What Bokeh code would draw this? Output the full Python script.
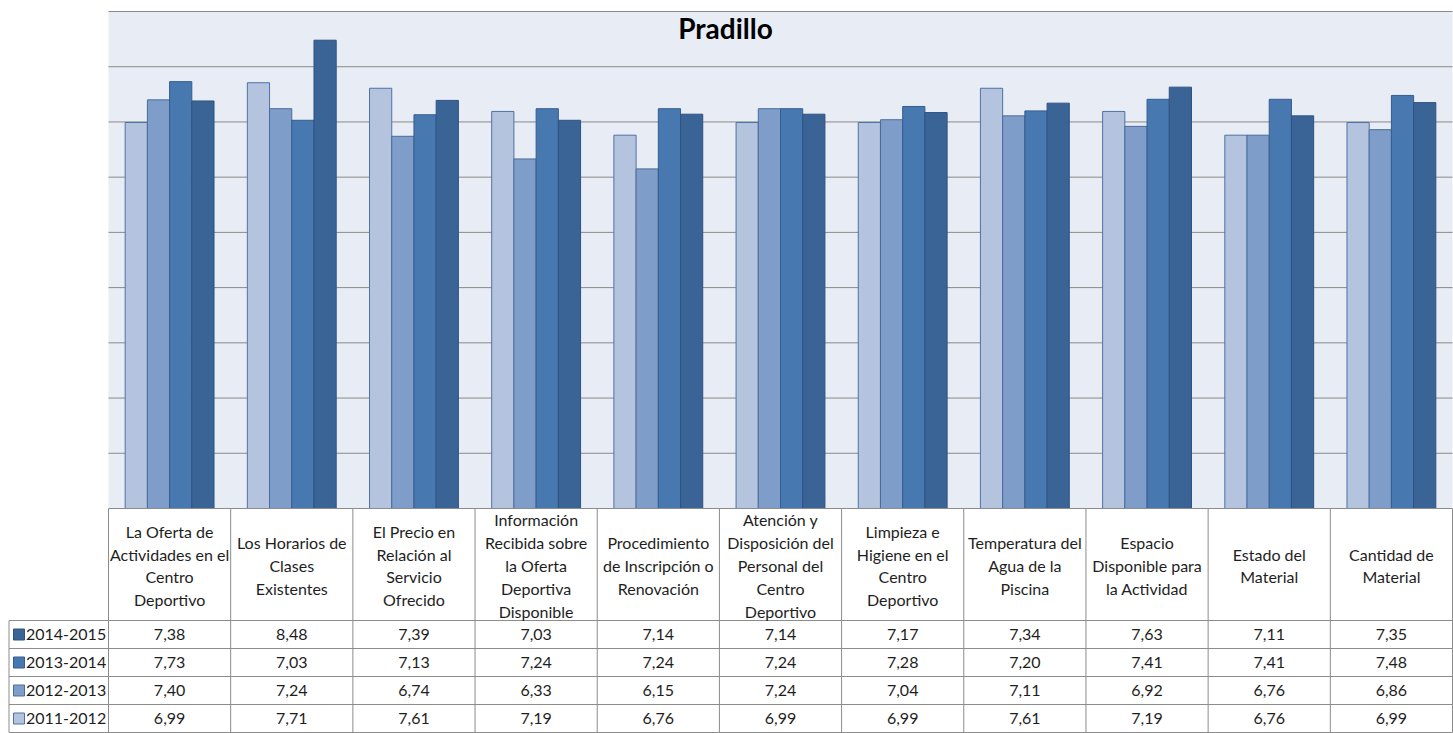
from bokeh.plotting import figure
from bokeh.models import Range1d, ColumnDataSource
from bokeh.core.properties import value
from bokeh.embed import file_html
from bokeh.resources import INLINE

# ---------------- data ----------------
title_text = "Pradillo"
categories = [
    "La Oferta de\nActividades en el\nCentro\nDeportivo",
    "Los Horarios de\nClases\nExistentes",
    "El Precio en\nRelación al\nServicio\nOfrecido",
    "Información\nRecibida sobre\nla Oferta\nDeportiva\nDisponible",
    "Procedimiento\nde Inscripción o\nRenovación",
    "Atención y\nDisposición del\nPersonal del\nCentro\nDeportivo",
    "Limpieza e\nHigiene en el\nCentro\nDeportivo",
    "Temperatura del\nAgua de la\nPiscina",
    "Espacio\nDisponible para\nla Actividad",
    "Estado del\nMaterial",
    "Cantidad de\nMaterial",
]
series_names = ["2011-2012", "2012-2013", "2013-2014", "2014-2015"]
v_2011_2012 = [6.99, 7.71, 7.61, 7.19, 6.76, 6.99, 6.99, 7.61, 7.19, 6.76, 6.99]
v_2012_2013 = [7.40, 7.24, 6.74, 6.33, 6.15, 7.24, 7.04, 7.11, 6.92, 6.76, 6.86]
v_2013_2014 = [7.73, 7.03, 7.13, 7.24, 7.24, 7.24, 7.28, 7.20, 7.41, 7.41, 7.48]
v_2014_2015 = [7.38, 8.48, 7.39, 7.03, 7.14, 7.14, 7.17, 7.34, 7.63, 7.11, 7.35]
y_gridlines = [1, 2, 3, 4, 5, 6, 7, 8, 9]
y_max = 9

series_values = [v_2011_2012, v_2012_2013, v_2013_2014, v_2014_2015]
fills = ["#B4C4DF", "#7F9DC9", "#4878B0", "#3B6496"]
edges = ["#4F72A4", "#4A6C9C", "#355D8F", "#2F5283"]

# ---------------- layout (page pixels) ----------------
W, H = 1453, 733
X0, X1 = 108, 1452      # plot-area / table columns left & right
Y_TOP, Y_ZERO = 11, 508  # pixel of y_max and of 0
N = len(categories)
U = (X1 - X0) / N
V = (Y_ZERO - Y_TOP) / y_max


def fx(px):
    return (px - X0) / U


def fy(py):
    return (Y_ZERO - py) / V


p = figure(width=W, height=H, output_backend="svg", toolbar_location=None,
           x_range=Range1d(fx(0), fx(W)), y_range=Range1d(fy(H), fy(0)),
           min_border=0, x_axis_location=None, y_axis_location=None)
p.outline_line_color = None
p.xgrid.visible = False
p.ygrid.visible = False
p.background_fill_color = "white"
p.border_fill_color = "white"

FONT = value("Lato")
TXT = "#1E1E1E"

# plot area background
p.quad(left=[0], right=[N], bottom=[0], top=[y_max], fill_color="#E8ECF4", line_color=None)

# gridlines
p.segment(x0=[0] * len(y_gridlines), x1=[N] * len(y_gridlines), y0=y_gridlines, y1=y_gridlines,
          line_color="#8A8A8A", line_width=1)

# bars
bw = 1 / 5.5
for k, (vals, fc, ec) in enumerate(zip(series_values, fills, edges)):
    xs = [i + 0.5 + (k - 1.5) * bw for i in range(N)]
    src = ColumnDataSource(dict(x=xs, top=vals))
    p.vbar(x="x", top="top", bottom=0, width=bw, source=src,
           fill_color=fc, line_color=ec, line_width=1)

# title
p.text(x=[fx(725)], y=[fy(27)], text=[title_text], text_font=FONT,
       text_font_size="28px", text_font_style="bold", text_color="black",
       text_align="center", text_baseline="middle")

# ---------------- data table ----------------
HDR_BOT = 620
ROW_H = 28
rows_top = [HDR_BOT + ROW_H * r for r in range(5)]
grid_col = "#8C8C8C"
LEFT = 8.5

# horizontal lines
hx0 = [fx(LEFT)] * 5 + [0]
hx1 = [N] * 6
hy = [fy(py) for py in rows_top] + [0]
p.segment(x0=hx0, x1=hx1, y0=hy, y1=hy, line_color=grid_col, line_width=1)
# vertical lines
vx = list(range(N + 1)) + [fx(LEFT)]
vy0 = [0] * (N + 1) + [fy(HDR_BOT)]
vy1 = [fy(rows_top[-1])] * (N + 2)
p.segment(x0=vx, x1=vx, y0=vy0, y1=vy1, line_color=grid_col, line_width=1)

# header texts
p.text(x=[i + 0.5 for i in range(N)], y=[fy(565)] * N, text=categories,
       text_font=FONT, text_font_size="16px", text_color=TXT,
       text_align="center", text_baseline="middle", text_line_height=1.2)

# value rows (top row = latest season)
for r, k in enumerate([3, 2, 1, 0]):
    yc = fy(HDR_BOT + ROW_H * r + ROW_H / 2)
    labels = [f"{v:.2f}".replace(".", ",") for v in series_values[k]]
    p.text(x=[i + 0.5 for i in range(N)], y=[yc] * N, text=labels,
           text_font=FONT, text_font_size="16px", text_color=TXT,
           text_align="center", text_baseline="middle")
    p.scatter(x=[fx(18.5)], y=[yc], marker="square", size=11,
              fill_color=fills[k], line_color=edges[k], line_width=1)
    p.text(x=[fx(25.5)], y=[yc], text=[series_names[k]], text_font=FONT,
           text_font_size="16px", text_color=TXT,
           text_align="left", text_baseline="middle")

open("out.html", "w").write(file_html(p, INLINE))
